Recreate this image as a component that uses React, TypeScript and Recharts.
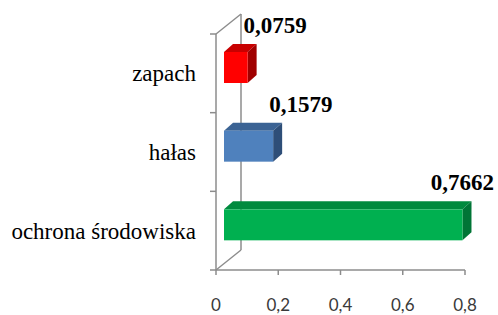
import { Bar, BarChart, LabelList, XAxis, YAxis } from 'recharts';

const categories = ['zapach', 'hałas', 'ochrona środowiska'];
const shares = [0.0759, 0.1579, 0.7662];
const xTicks = [0, 0.2, 0.4, 0.6, 0.8];

const data = categories.map((name, i) => ({ name, value: shares[i] }));

// front / top / side shades for each bar
const colors = [
  { front: '#ff0000', top: '#c80000', side: '#a00000' },
  { front: '#4f81bd', top: '#3b6394', side: '#2e4e78' },
  { front: '#00b050', top: '#008a3e', side: '#007536' },
];

const W = 498;
const H = 315;
const PLOT = { left: 216, top: 34, right: 465, bottom: 270 };
const WALL = { dx: 25, dy: 20 };
const BAR_SHIFT = { x: 8, y: 6 };
const DEPTH = { dx: 9, dy: 8 };
const AXIS_GREY = '#8c8c8c';

const comma = (v: number) => (v === 0 ? '0' : v.toFixed(1).replace('.', ','));

const Bar3D = (props: any) => {
  const { x, y, width, height, index } = props;
  const c = colors[index % colors.length];
  const fx = x + BAR_SHIFT.x;
  const fy = y - BAR_SHIFT.y;
  const { dx, dy } = DEPTH;
  return (
    <g>
      <polygon
        points={`${fx},${fy} ${fx + dx},${fy - dy} ${fx + width + dx},${fy - dy} ${fx + width},${fy}`}
        fill={c.top}
      />
      <polygon
        points={`${fx + width},${fy} ${fx + width + dx},${fy - dy} ${fx + width + dx},${fy + height - dy} ${fx + width},${fy + height}`}
        fill={c.side}
      />
      <rect x={fx} y={fy} width={width} height={height} fill={c.front} />
    </g>
  );
};

const ValueLabel = (props: any) => {
  const { x, y, width, value } = props;
  const text = value.toFixed(4).replace('.', ',');
  const right = x + BAR_SHIFT.x + width;
  const top = y - BAR_SHIFT.y;
  const estWidth = 64;
  const fits = right - 4 + estWidth < W - 3;
  return (
    <text
      x={fits ? right - 4 : W - 4}
      y={top - 19}
      textAnchor={fits ? 'start' : 'end'}
      fontFamily="'Liberation Serif', serif"
      fontWeight="bold"
      fontSize={23}
      fill="#000"
    >
      {text}
    </text>
  );
};

// 3D wall outline behind the bars (back edge, diagonals, category ticks)
const Frame = () => {
  const band = (PLOT.bottom - PLOT.top) / categories.length;
  const bx = PLOT.left + WALL.dx;
  return (
    <svg width={W} height={H} style={{ position: 'absolute', left: 0, top: 0 }}>
      <g stroke={AXIS_GREY} strokeWidth={1.5} fill="none">
        <line x1={PLOT.left} y1={PLOT.top} x2={bx} y2={PLOT.top - WALL.dy} />
        <line x1={bx} y1={PLOT.top - WALL.dy} x2={bx} y2={PLOT.bottom - WALL.dy} />
        <line x1={PLOT.left} y1={PLOT.bottom} x2={bx} y2={PLOT.bottom - WALL.dy} />
        {Array.from({ length: categories.length + 1 }, (_, i) => (
          <line
            key={i}
            x1={PLOT.left - 6}
            y1={PLOT.top + i * band}
            x2={PLOT.left}
            y2={PLOT.top + i * band}
          />
        ))}
      </g>
    </svg>
  );
};

export default function App() {
  return (
    <div style={{ position: 'absolute', left: 0, top: 0, width: W, height: H, background: '#fff' }}>
      <Frame />
      <div style={{ position: 'absolute', left: 0, top: 0 }}>
        <BarChart
          width={W}
          height={H}
          data={data}
          layout="vertical"
          margin={{ top: PLOT.top, right: W - PLOT.right, bottom: 0, left: 0 }}
          barSize={31}
        >
          <XAxis
            type="number"
            domain={[0, 0.8]}
            ticks={xTicks}
            tickFormatter={comma}
            height={H - PLOT.bottom}
            stroke={AXIS_GREY}
            strokeWidth={1.5}
            tickSize={5}
            tickMargin={24}
            tick={{ fill: '#3a3a3a', fontSize: 17, fontFamily: 'Lato' }}
          />
          <YAxis
            type="category"
            dataKey="name"
            width={PLOT.left}
            stroke={AXIS_GREY}
            strokeWidth={1.5}
            tickLine={false}
            tickSize={0}
            tickMargin={20}
            tick={{ fill: '#000', fontSize: 23, fontFamily: "'Liberation Serif', serif" }}
          />
          <Bar dataKey="value" shape={<Bar3D />} isAnimationActive={false}>
            <LabelList dataKey="value" content={<ValueLabel />} />
          </Bar>
        </BarChart>
      </div>
    </div>
  );
}
